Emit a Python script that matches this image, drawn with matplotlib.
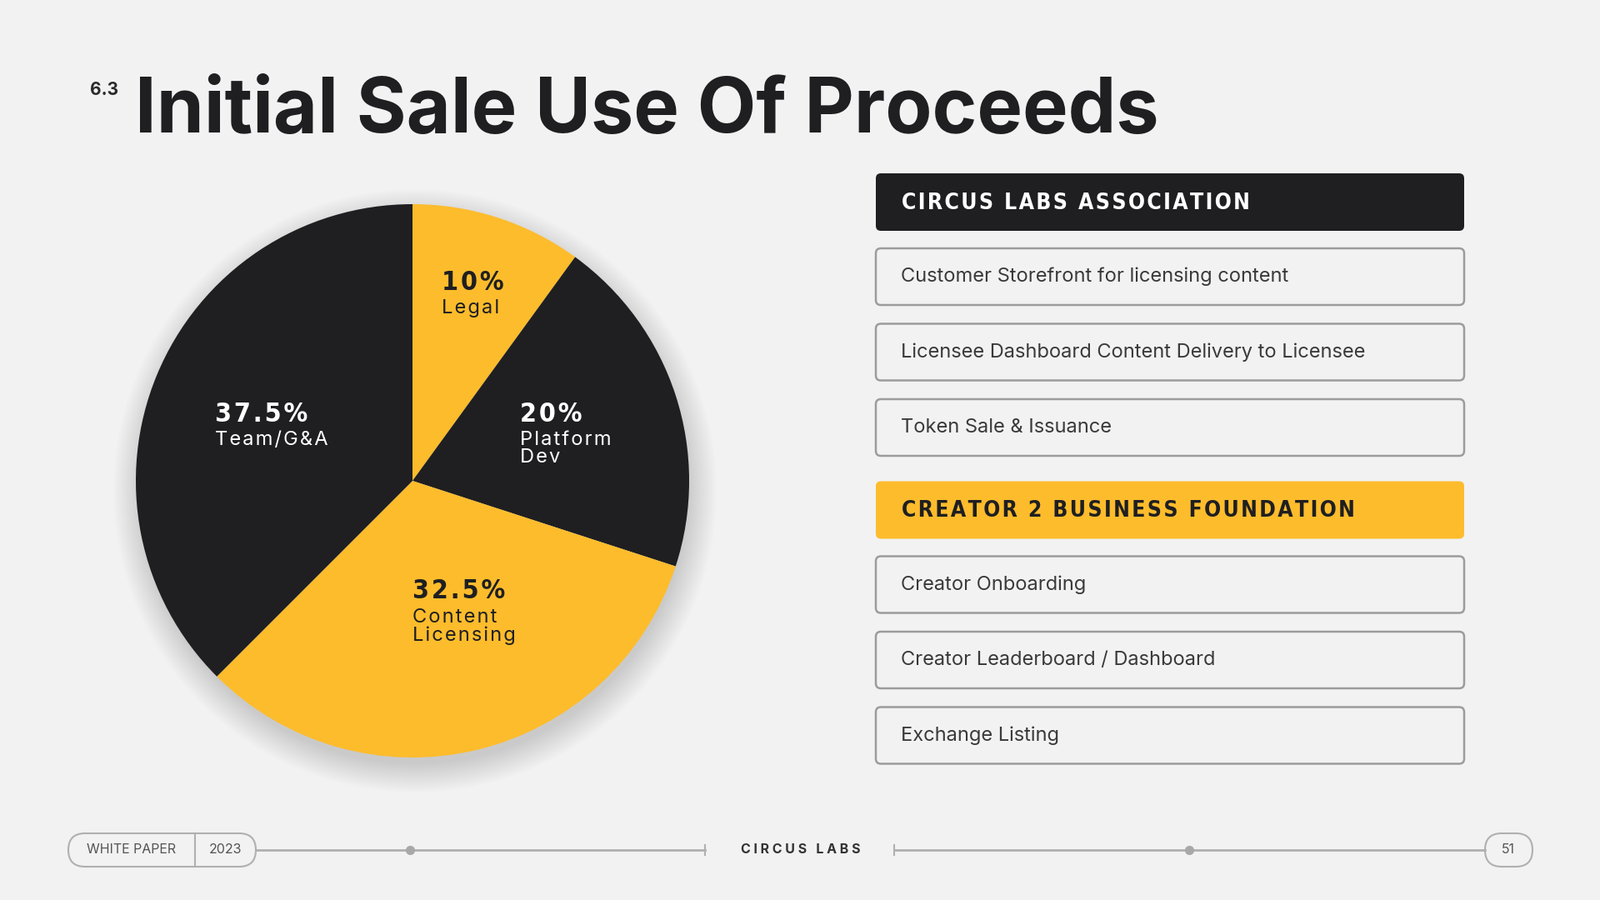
import matplotlib.pyplot as plt
from matplotlib.patches import FancyBboxPatch, Circle

# data
slice_pct = [10, 20, 32.5, 37.5]
slice_names = ["Legal", "Platform\nDev", "Content\nLicensing", "Team/G&A"]
slice_colors = ["#FDBC2C", "#1F1F21", "#FDBC2C", "#1F1F21"]
label_colors = ["#1F1F21", "#FFFFFF", "#1F1F21", "#FFFFFF"]
group_titles = ["CIRCUS LABS ASSOCIATION", "CREATOR 2 BUSINESS FOUNDATION"]
group_items = [
    ["Customer Storefront for licensing content",
     "Licensee Dashboard Content Delivery to Licensee",
     "Token Sale & Issuance"],
    ["Creator Onboarding", "Creator Leaderboard / Dashboard", "Exchange Listing"],
]

BG = "#F2F2F2"
YEL = "#FDBC2C"
DARK = "#1F1F21"
COND = dict(family="DejaVu Sans", stretch="condensed", fontweight="bold")


def spaced(s):
    # small letter spacing for wide-tracked labels
    return "\u200a".join(s)


fig = plt.figure(figsize=(19.2, 10.8), dpi=100, facecolor=BG)

# background layer in pixel coords
bg = fig.add_axes([0, 0, 1, 1], zorder=0)
bg.set_xlim(0, 1920)
bg.set_ylim(1080, 0)
bg.axis("off")

cx, cy, r = 495, 577, 332
# soft shadow
for i in range(20):
    bg.add_patch(Circle((cx + 3, cy + 12), r + 30 - i * 1.8, color="#000000",
                        alpha=0.006, lw=0))

bg.text(108, 108, "6.3", fontsize=15, fontweight="bold", color="#2a2a2a",
        family="Inter", va="center")
bg.text(162, 135, "Initial Sale Use Of Proceeds", fontsize=66, fontweight="bold",
        color=DARK, family="Inter", va="center")

# right side boxes
x0, x1 = 1051, 1757
y = 208
for gi, title in enumerate(group_titles):
    col = DARK if gi == 0 else YEL
    tcol = "white" if gi == 0 else DARK
    bg.add_patch(FancyBboxPatch((x0, y), x1 - x0, 69, boxstyle="round,pad=0,rounding_size=6",
                                fc=col, ec="none"))
    bg.text(1082, y + 36, spaced(title), fontsize=19, color=tcol, va="center", **COND)
    y += 90
    for item in group_items[gi]:
        bg.add_patch(FancyBboxPatch((x0, y), x1 - x0, 68, boxstyle="round,pad=0,rounding_size=6",
                                    fc=BG, ec="#9C9C9C", lw=1.8))
        bg.text(1081, y + 34, item, fontsize=17, color="#3a3a3a", family="Inter",
                va="center")
        y += 90.5
    y += 8

# footer
fy = 1020
line_c = "#B0B0B0"
bg.add_patch(FancyBboxPatch((82, 1000), 225, 40, boxstyle="round,pad=0,rounding_size=20",
                            fc=BG, ec=line_c, lw=1.5))
bg.plot([234, 234], [1000, 1040], color=line_c, lw=1.5)
bg.text(158, fy, "WHITE PAPER", fontsize=11.5, color="#555", ha="center", va="center",
        family="Inter")
bg.text(270, fy, "2023", fontsize=11.5, color="#555", ha="center", va="center",
        family="Inter")
bg.plot([307, 846], [fy, fy], color=line_c, lw=2)
bg.plot([846, 846], [fy - 6, fy + 6], color=line_c, lw=1.5)
bg.plot([1073, 1782], [fy, fy], color=line_c, lw=2)
bg.plot([1073, 1073], [fy - 6, fy + 6], color=line_c, lw=1.5)
bg.plot([492, 1427], [fy, fy], "o", color="#A8A8A8", ms=7, lw=0)
bg.text(961, fy, "C I R C U S   L A B S", fontsize=11.5, fontweight="bold", color="#333",
        ha="center", va="center", family="Inter")
bg.add_patch(FancyBboxPatch((1782, 1000), 57, 40, boxstyle="round,pad=0,rounding_size=20",
                            fc=BG, ec=line_c, lw=1.5))
bg.text(1810, fy, "51", fontsize=11.5, color="#555", ha="center", va="center", family="Inter")

# pie
pax = fig.add_axes([(cx - r) / 1920, (1080 - cy - r) / 1080, 2 * r / 1920, 2 * r / 1080],
                   zorder=1)
pax.pie(slice_pct, colors=slice_colors, startangle=90, counterclock=False,
        wedgeprops=dict(linewidth=0))
pax.set_aspect("equal")
pax.set_xlim(-1, 1)
pax.set_ylim(-1, 1)
pax.axis("off")

# labels on top
top = fig.add_axes([0, 0, 1, 1], zorder=2)
top.set_xlim(0, 1920)
top.set_ylim(1080, 0)
top.axis("off")
label_pos = [(530, 339), (624, 497), (495, 710), (258, 497)]
for pct, name, (lx, ly), tc in zip(slice_pct, slice_names, label_pos, label_colors):
    top.text(lx, ly, spaced(f"{pct:g}%"), fontsize=23, color=tc, va="center", **COND)
    lines = "\n".join(spaced(t) for t in name.split("\n"))
    top.text(lx, ly + 20, lines, fontsize=17, color=tc, family="Inter",
             va="top", linespacing=0.95)

fig.savefig("out.png", dpi=100, facecolor=BG)
